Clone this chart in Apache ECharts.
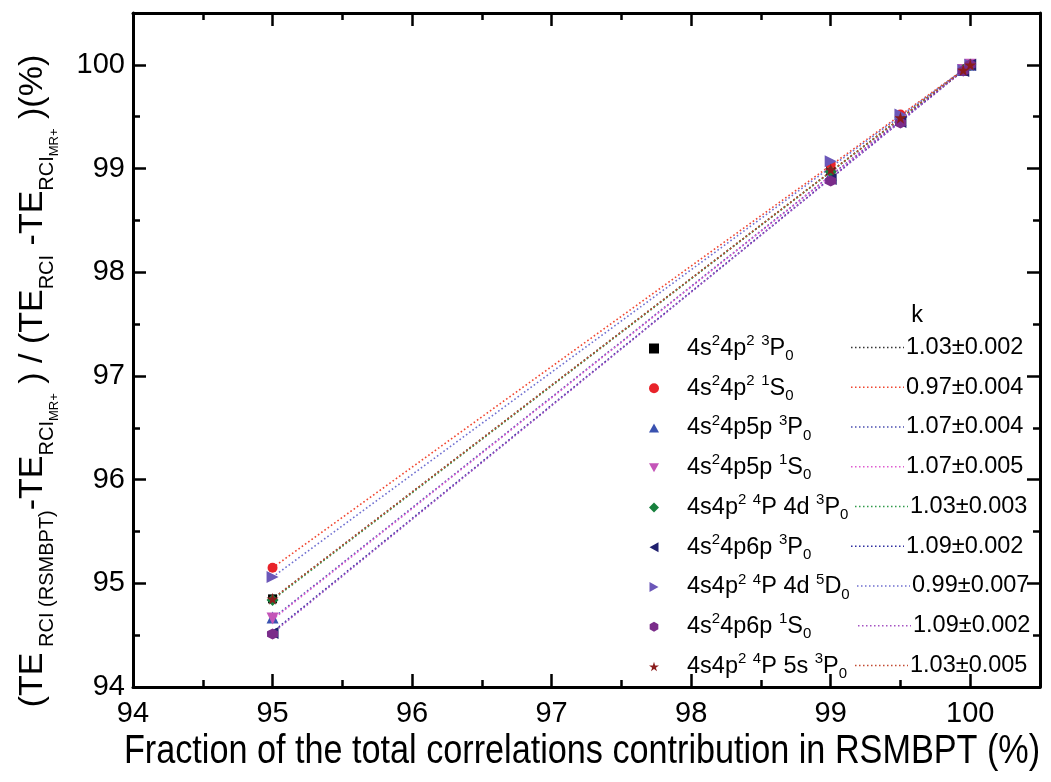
<!DOCTYPE html>
<html><head><meta charset="utf-8">
<script src="https://cdn.jsdelivr.net/npm/echarts@6/dist/echarts.min.js"></script>
<style>html,body{margin:0;padding:0;background:#fff}#c{width:1051px;height:782px}</style>
</head><body><div id="c"></div>
<script>
// ---- data ----
const xValues = [95, 99, 99.5, 99.95, 100];
const fitX = [95, 100];
const seriesNames = ['4s24p2 3P0','4s24p2 1S0','4s24p5p 3P0','4s24p5p 1S0','4s4p2 4P 4d 3P0','4s24p6p 3P0','4s4p2 4P 4d 5D0','4s24p6p 1S0','4s4p2 4P 5s 3P0'];
const legendLabels = [
  '{m|4s}{sup|2}{m|4p}{sup|2}{m| }{sup|3}{m|P}{sub|0}',
  '{m|4s}{sup|2}{m|4p}{sup|2}{m| }{sup|1}{m|S}{sub|0}',
  '{m|4s}{sup|2}{m|4p5p }{sup|3}{m|P}{sub|0}',
  '{m|4s}{sup|2}{m|4p5p }{sup|1}{m|S}{sub|0}',
  '{m|4s4p}{sup|2}{m| }{sup|4}{m|P 4d }{sup|3}{m|P}{sub|0}',
  '{m|4s}{sup|2}{m|4p6p }{sup|3}{m|P}{sub|0}',
  '{m|4s4p}{sup|2}{m| }{sup|4}{m|P 4d }{sup|5}{m|D}{sub|0}',
  '{m|4s}{sup|2}{m|4p6p }{sup|1}{m|S}{sub|0}',
  '{m|4s4p}{sup|2}{m| }{sup|4}{m|P 5s }{sup|3}{m|P}{sub|0}'
];
const kLabels = ['1.03±0.002','0.97±0.004','1.07±0.004','1.07±0.005','1.03±0.003','1.09±0.002','0.99±0.007','1.09±0.002','1.03±0.005'];
const kHeader = 'k';
const yBlack   = [94.85, 98.98, 99.49, 99.95, 100.0];
const yRed     = [95.15, 99.04, 99.52, 99.96, 100.0];
const yBlue    = [94.67, 98.94, 99.47, 99.95, 100.0];
const yMagenta = [94.66, 98.93, 99.46, 99.95, 100.0];
const yGreen   = [94.84, 98.97, 99.49, 99.95, 100.0];
const yNavy    = [94.52, 98.90, 99.45, 99.94, 100.0];
const yViolet  = [95.06, 99.07, 99.52, 99.95, 100.0];
const yHexagon = [94.51, 98.88, 99.44, 99.94, 100.0];
const yStar    = [94.85, 98.99, 99.49, 99.95, 100.0];
const fitBlack   = [94.85, 100.0];
const fitRed     = [95.15, 100.0];
const fitBlue    = [94.66, 100.0];
const fitMagenta = [94.65, 100.0];
const fitGreen   = [94.84, 100.0];
const fitNavy    = [94.53, 100.0];
const fitViolet  = [95.06, 100.0];
const fitHexagon = [94.52, 100.0];
const fitStar    = [94.85, 100.0];
const xTitle = 'Fraction of the total correlations contribution in RSMBPT (%)';
const yTitle = '{b|(TE}{s| RCI (RSMBPT)}{b|-TE}{s|RCI}{ss|MR+}{b| ) / (TE}{s|RCI}{b| -TE}{s|RCI}{ss|MR+}{b| )(%)}';

// ---- styles ----
const yData = [yBlack,yRed,yBlue,yMagenta,yGreen,yNavy,yViolet,yHexagon,yStar];
const fitData = [fitBlack,fitRed,fitBlue,fitMagenta,fitGreen,fitNavy,fitViolet,fitHexagon,fitStar];
const markColors = ['#000000','#e8232a','#3a52b0','#c455b8','#17803d','#20206e','#6b57b8','#7a2c8a','#8a1c1c'];
const lineColors = ['#333333','#f0452f','#4a4fb0','#e05ad0','#2f9a4a','#2e2ea0','#6f6fd0','#a552c2','#c24a30'];
const STAR = 'path://M50,0 L61,35 L98,35 L68,57 L79,91 L50,70 L21,91 L32,57 L2,35 L39,35 Z';
const symbols = [
  'path://M0,0 L10,0 L10,10 L0,10 Z',
  'circle',
  'path://M5,0 L10,9 L0,9 Z',
  'path://M0,0 L10,0 L5,9 Z',
  'path://M5,0 L10,5 L5,10 L0,5 Z',
  'path://M0,5 L9,0 L9,10 Z',
  'path://M0,0 L9,5 L0,10 Z',
  'path://M5,0 L9.33,2.5 L9.33,7.5 L5,10 L0.67,7.5 L0.67,2.5 Z',
  STAR
];
const symSizes = [9, 10, 12, 12, 12, 12, 12, 11, 12];
const FONT = 'Liberation Sans, Arial, sans-serif';

const chart = echarts.init(document.getElementById('c'), null, {renderer:'canvas'});
const intFmt = v => (Math.abs(v - Math.round(v)) < 1e-9 ? String(Math.round(v)) : '');
function axisBase(isX, pos, showLabel){
  return {
    type:'value', min:94, max:100.5, interval:1, position:pos,
    axisLine:{show:true, onZero:false, lineStyle:{color:'#000', width:3}},
    axisTick:{show:true, inside:true, length:13, lineStyle:{color:'#000', width:2.5}},
    minorTick:{show:true, splitNumber:2, length:7, lineStyle:{color:'#000', width:2.5}},
    splitLine:{show:false}, minorSplitLine:{show:false},
    axisLabel:{show:showLabel, formatter:intFmt, fontFamily:FONT, fontSize:29, color:'#000', margin:isX?12:8}
  };
}
const series = [];
for (let i=0;i<9;i++){
  series.push({
    name:'fit'+i, type:'line', data:fitX.map((x,j)=>[x, fitData[i][j]]),
    showSymbol:false, symbol:'none', silent:true, z:2,
    lineStyle:{color:lineColors[i], width:1.6, type:[1.6,2.4]}
  });
}
for (let i=0;i<9;i++){
  series.push({
    name:seriesNames[i], type:'scatter', data:xValues.map((x,j)=>[x, yData[i][j]]),
    symbol:symbols[i], symbolSize:symSizes[i], z:3+i,
    itemStyle:{color:markColors[i], opacity:1}
  });
}
const rowY0 = 347.5, rowPitch = 39.75;
const lineStart = [851,851,851,851,855,851,857,858,855];
const graphics = [];
for (let i=0;i<9;i++){
  const y = rowY0 + i*rowPitch;
  graphics.push({type:'line', silent:true, shape:{x1:lineStart[i], y1:y, x2:lineStart[i]+53, y2:y},
    style:{stroke:lineColors[i], lineWidth:1.5, lineDash:[1.5,2.5]}});
  graphics.push({type:'text', silent:true, x:lineStart[i]+55, y:y,
    style:{text:kLabels[i], fontFamily:FONT, fontSize:23.5, fill:'#000', align:'left', verticalAlign:'middle'}});
}
graphics.push({type:'text', silent:true, x:917, y:316,
  style:{text:kHeader, fontFamily:FONT, fontSize:23.5, fill:'#000', align:'center', verticalAlign:'middle'}});
graphics.push({type:'text', silent:true, x:582, y:752, scaleX:0.855,
  style:{text:xTitle, fontFamily:FONT, fontSize:40, fill:'#000', align:'center', verticalAlign:'middle'}});
graphics.push({type:'text', silent:true, x:33, y:381, rotation:Math.PI/2,
  style:{text:yTitle, align:'center', verticalAlign:'middle', fill:'#000',
    rich:{
      b:{fontFamily:FONT, fontSize:34, lineHeight:56, fill:'#000', color:'#000'},
      s:{fontFamily:FONT, fontSize:20, lineHeight:20, padding:[0,0,4,0], verticalAlign:'bottom', fill:'#000', color:'#000'},
      ss:{fontFamily:FONT, fontSize:13, lineHeight:13, verticalAlign:'bottom', fill:'#000', color:'#000'}
    }}});

chart.setOption({
  animation:false,
  backgroundColor:'#fff',
  grid:{left:133, right:11, top:13, bottom:95, containLabel:false, outerBoundsMode:'none'},
  xAxis:[axisBase(true,'bottom',true), axisBase(true,'top',false)],
  yAxis:[axisBase(false,'left',true), axisBase(false,'right',false)],
  legend:{
    data:seriesNames, orient:'vertical', left:644, top:328.5, itemWidth:10, itemHeight:10, itemGap:9.75,
    selectedMode:false,
    formatter: name => '{sp| }' + legendLabels[seriesNames.indexOf(name)],
    textStyle:{fontFamily:FONT, fontSize:23.5, color:'#000',
      rich:{
        sp:{width:23, fontSize:23.5, lineHeight:30},
        m:{fontFamily:FONT, fontSize:23.5, lineHeight:30, color:'#000'},
        sup:{fontFamily:FONT, fontSize:15, lineHeight:15, verticalAlign:'top', color:'#000'},
        sub:{fontFamily:FONT, fontSize:15, lineHeight:15, verticalAlign:'bottom', color:'#000'}
      }}
  },
  graphic:graphics,
  series:series
});
</script></body></html>
